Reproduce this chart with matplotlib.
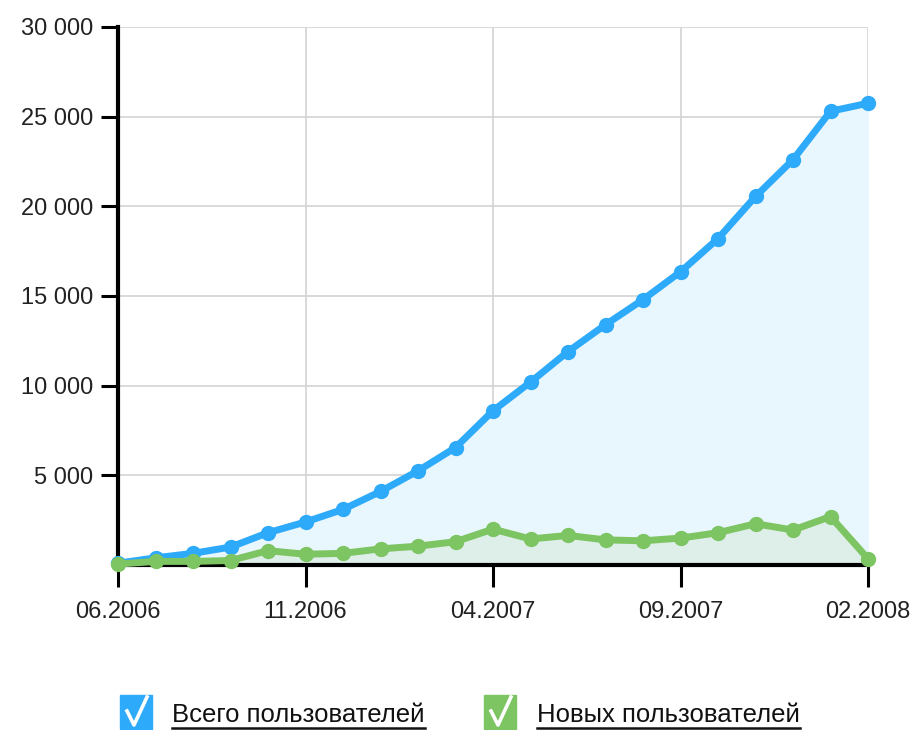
import matplotlib
matplotlib.use("Agg")
import matplotlib.pyplot as plt
from matplotlib.patches import Rectangle
from matplotlib.lines import Line2D

months = ["06.2006", "07.2006", "08.2006", "09.2006", "10.2006", "11.2006", "12.2006",
          "01.2007", "02.2007", "03.2007", "04.2007", "05.2007", "06.2007", "07.2007",
          "08.2007", "09.2007", "10.2007", "11.2007", "12.2007", "01.2008", "02.2008"]
total_users = [100, 400, 650, 1000, 1800, 2400, 3100, 4100, 5250, 6550, 8600, 10200,
               11900, 13400, 14800, 16350, 18200, 20550, 22600, 25300, 25750]
new_users = [50, 200, 200, 250, 800, 600, 650, 900, 1050, 1300, 2000, 1450, 1650,
             1400, 1350, 1500, 1800, 2300, 1950, 2700, 350]
y_ticks = [5000, 10000, 15000, 20000, 25000, 30000]
y_tick_labels = ["5 000", "10 000", "15 000", "20 000", "25 000", "30 000"]
x_tick_idx = [0, 5, 10, 15, 20]
legend_labels = ["Всего пользователей", "Новых пользователей"]

blue = "#2EAAFA"
green = "#7DC462"
FONT = "Liberation Sans"

fig = plt.figure(figsize=(9.17, 7.30), dpi=100)
ax = fig.add_axes([118/917, 1-565/730, (868-118)/917, (565-27)/730])
x = list(range(len(months)))

ax.fill_between(x, 0, total_users, color="#E8F6FD", zorder=1)
ax.fill_between(x, 0, new_users, color="#DDEFE8", zorder=2)
ax.plot(x, total_users, color=blue, lw=5, marker="o", ms=10, zorder=5, clip_on=False)
ax.plot(x, new_users, color=green, lw=5, marker="o", ms=10, zorder=6, clip_on=False)

ax.set_xlim(0, 20)
ax.set_ylim(0, 30000)
ax.set_yticks(y_ticks)
ax.set_yticklabels(y_tick_labels, fontfamily=FONT, fontsize=17, color="#222222")
ax.set_xticks(x_tick_idx)
ax.set_xticklabels([months[i] for i in x_tick_idx], fontfamily=FONT, fontsize=17, color="#222222")
ax.grid(True, color="#D3D3D3", lw=1.2, zorder=0)
ax.set_axisbelow(True)
for s in ["top", "right"]:
    ax.spines[s].set_visible(False)
for s in ["left", "bottom"]:
    ax.spines[s].set_linewidth(3)
    ax.spines[s].set_color("black")
    ax.spines[s].set_zorder(4)
ax.tick_params(axis="y", length=12, width=2.2, pad=6)
ax.tick_params(axis="x", length=16, width=2.2, pad=10)

# custom legend
fig.canvas.draw()
renderer = fig.canvas.get_renderer()
items = [(120, blue, legend_labels[0], 172), (484, green, legend_labels[1], 537)]
W, H = 917, 730
for bx, col, lab, tx in items:
    sq = Rectangle((bx/W, 1-729/H), 32/W, 34/H, transform=fig.transFigure, color=col)
    fig.add_artist(sq)
    chk = Line2D([(bx+7)/W, (bx+14)/W, (bx+27)/W], [1-711/H, 1-725/H, 1-697/H],
                 transform=fig.transFigure, color="white", lw=2.6)
    fig.add_artist(chk)
    t = fig.text(tx/W, 1-715/H, lab, fontfamily=FONT, fontsize=18.5, color="#111111",
                 va="center", ha="left")
    bb = t.get_window_extent(renderer)
    fig.add_artist(Line2D([bb.x0/W, bb.x1/W], [1-728/H, 1-728/H], transform=fig.transFigure,
                          color="#111111", lw=1.8))

fig.savefig("out.png", dpi=100)
